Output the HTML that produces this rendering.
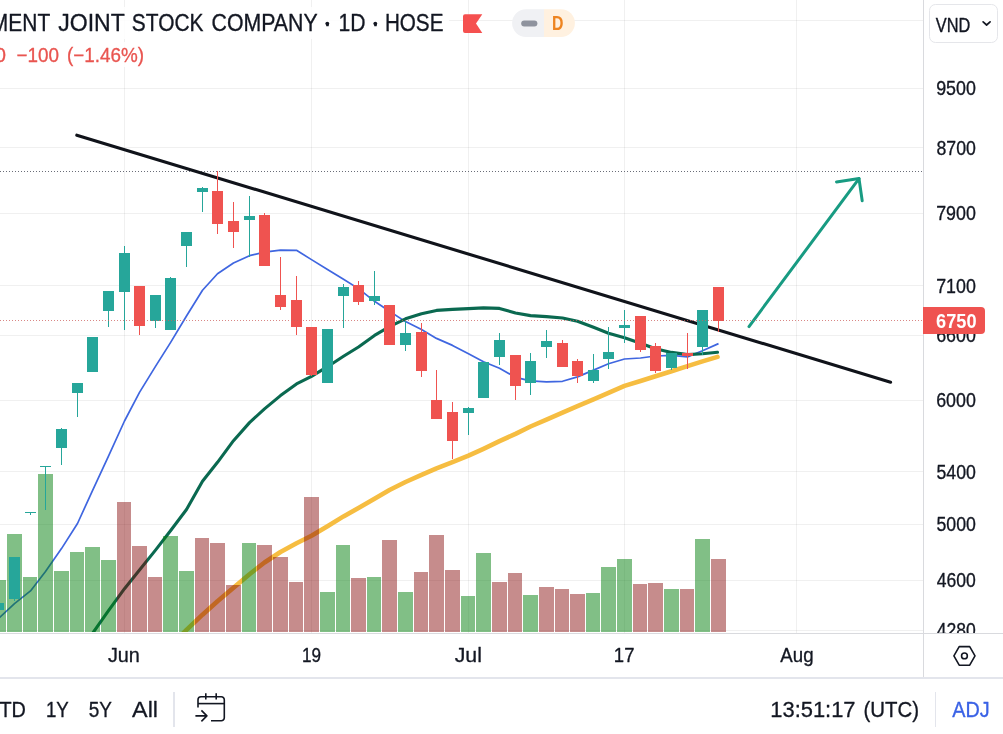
<!DOCTYPE html>
<html lang="en"><head><meta charset="utf-8"><title>Chart</title>
<style>
html,body{margin:0;padding:0;background:#fff;}
body{width:1003px;height:734px;overflow:hidden;position:relative;font-family:"Liberation Sans","DejaVu Sans",sans-serif;color:#131722;}
body>svg{position:absolute;left:0;top:0;display:block;}
svg text{font-family:"Liberation Sans","DejaVu Sans",sans-serif;}
</style></head><body>
<svg width="1003" height="734" viewBox="0 0 1003 734">
<rect x="0" y="0" width="1003" height="734" fill="#ffffff"/>
<g stroke="rgba(40,40,46,0.07)" stroke-width="1" shape-rendering="crispEdges">
<line x1="124.5" y1="0" x2="124.5" y2="633"/>
<line x1="311.5" y1="0" x2="311.5" y2="633"/>
<line x1="468.5" y1="0" x2="468.5" y2="633"/>
<line x1="624.5" y1="0" x2="624.5" y2="633"/>
<line x1="796.5" y1="0" x2="796.5" y2="633"/>
<line x1="0" y1="20.5" x2="923" y2="20.5"/>
<line x1="0" y1="88.5" x2="923" y2="88.5"/>
<line x1="0" y1="147.5" x2="923" y2="147.5"/>
<line x1="0" y1="213.5" x2="923" y2="213.5"/>
<line x1="0" y1="285.5" x2="923" y2="285.5"/>
<line x1="0" y1="335.5" x2="923" y2="335.5"/>
<line x1="0" y1="400.5" x2="923" y2="400.5"/>
<line x1="0" y1="471.5" x2="923" y2="471.5"/>
<line x1="0" y1="524.5" x2="923" y2="524.5"/>
<line x1="0" y1="580.5" x2="923" y2="580.5"/>
<line x1="0" y1="630.5" x2="923" y2="630.5"/>
</g>
<svg x="0" y="0" width="923" height="632" overflow="hidden"><g>
<line x1="0" y1="171.5" x2="923" y2="171.5" stroke="#6a6d78" stroke-width="1" stroke-dasharray="1 2" shape-rendering="crispEdges"/>
<line x1="76.8" y1="135.2" x2="890.6" y2="382.2" stroke="#10131a" stroke-width="3.1" stroke-linecap="round"/>
<g fill="none" stroke="#189b82" stroke-width="3.0" stroke-linecap="round" stroke-linejoin="round">
<line x1="749.0" y1="326.6" x2="859.0" y2="178.6"/>
<polyline points="836.5,181.9 859.0,178.6 862.2,200.8"/>
</g>
<polyline points="-16.5,629.9 -1.5,618.6 14.5,603.6 30.5,590.9 45.5,571.5 61.5,548.6 77.5,523.5 92.5,490.6 108.5,456.1 124.5,421.0 139.5,392.4 155.5,366.4 170.5,342.6 186.5,316.0 202.5,290.3 217.5,273.7 233.5,263.0 249.5,255.7 264.5,252.2 280.5,250.2 296.5,250.3 311.5,259.6 327.5,269.5 343.5,279.3 358.5,288.6 374.5,301.3 389.5,311.3 405.5,321.6 421.5,329.6 436.5,338.4 452.5,345.4 468.5,353.7 483.5,361.7 499.5,368.3 515.5,377.3 530.5,380.8 546.5,381.9 562.5,381.3 577.5,376.9 593.5,370.1 608.5,363.7 624.5,359.0 640.5,358.0 655.5,356.0 671.5,355.4 687.5,356.9 702.5,350.7 718.5,343.6" fill="none" stroke="#3f66e0" stroke-width="1.7" stroke-linejoin="round" stroke-linecap="butt"/>
<polyline points="77.5,654.8 92.5,633.4 108.5,610.6 124.5,588.7 139.5,570.0 155.5,550.1 170.5,530.8 186.5,509.5 202.5,481.3 217.5,462.3 233.5,440.7 249.5,422.6 264.5,408.9 280.5,395.6 296.5,383.9 311.5,376.4 327.5,366.7 343.5,356.3 358.5,347.0 374.5,335.4 389.5,326.6 405.5,318.8 421.5,313.8 436.5,310.4 452.5,309.4 468.5,308.6 483.5,307.9 499.5,308.4 515.5,313.0 530.5,315.6 546.5,316.6 562.5,318.0 577.5,321.3 593.5,327.3 608.5,333.2 624.5,337.7 640.5,343.3 655.5,348.8 671.5,352.4 687.5,354.6 702.5,353.8 717.5,352.3" fill="none" stroke="#0a6950" stroke-width="3.1" stroke-linejoin="round" stroke-linecap="round"/>
<polyline points="170.5,646.0 186.5,629.9 202.5,614.7 217.5,601.3 233.5,587.7 249.5,574.2 264.5,562.5 280.5,552.0 296.5,543.3 311.5,535.8 327.5,526.2 343.5,516.4 358.5,508.0 374.5,498.7 389.5,490.0 405.5,482.0 421.5,474.9 436.5,468.4 452.5,462.1 468.5,455.7 483.5,448.8 499.5,441.1 515.5,433.9 530.5,426.5 546.5,419.6 562.5,412.7 577.5,406.2 593.5,399.3 608.5,392.8 624.5,385.9 640.5,381.0 655.5,376.2 671.5,371.2 687.5,366.1 702.5,361.4 717.5,356.9" fill="none" stroke="#f6bd41" stroke-width="4.6" stroke-linejoin="round" stroke-linecap="round"/>
<g shape-rendering="crispEdges">
<rect x="-9" y="580" width="15" height="52" fill="rgba(4,128,14,0.5)"/>
<rect x="7" y="534" width="15" height="98" fill="rgba(4,128,14,0.5)"/>
<rect x="23" y="577" width="14" height="55" fill="rgba(4,128,14,0.5)"/>
<rect x="38" y="474" width="15" height="158" fill="rgba(4,128,14,0.5)"/>
<rect x="54" y="571" width="15" height="61" fill="rgba(4,128,14,0.5)"/>
<rect x="70" y="552" width="14" height="80" fill="rgba(4,128,14,0.5)"/>
<rect x="85" y="547" width="15" height="85" fill="rgba(4,128,14,0.5)"/>
<rect x="101" y="560" width="15" height="72" fill="rgba(4,128,14,0.5)"/>
<rect x="117" y="502" width="14" height="130" fill="rgba(128,0,0,0.45)"/>
<rect x="132" y="546" width="15" height="86" fill="rgba(128,0,0,0.45)"/>
<rect x="148" y="577" width="14" height="55" fill="rgba(128,0,0,0.45)"/>
<rect x="163" y="536" width="15" height="96" fill="rgba(4,128,14,0.5)"/>
<rect x="179" y="571" width="15" height="61" fill="rgba(4,128,14,0.5)"/>
<rect x="195" y="538" width="14" height="94" fill="rgba(128,0,0,0.45)"/>
<rect x="210" y="543" width="15" height="89" fill="rgba(128,0,0,0.45)"/>
<rect x="226" y="585" width="15" height="47" fill="rgba(128,0,0,0.45)"/>
<rect x="242" y="543" width="14" height="89" fill="rgba(4,128,14,0.5)"/>
<rect x="257" y="545" width="15" height="87" fill="rgba(128,0,0,0.45)"/>
<rect x="273" y="557" width="15" height="75" fill="rgba(128,0,0,0.45)"/>
<rect x="289" y="582" width="14" height="50" fill="rgba(128,0,0,0.45)"/>
<rect x="304" y="497" width="15" height="135" fill="rgba(128,0,0,0.45)"/>
<rect x="320" y="592" width="15" height="40" fill="rgba(4,128,14,0.5)"/>
<rect x="336" y="545" width="14" height="87" fill="rgba(4,128,14,0.5)"/>
<rect x="351" y="578" width="15" height="54" fill="rgba(128,0,0,0.45)"/>
<rect x="367" y="577" width="14" height="55" fill="rgba(4,128,14,0.5)"/>
<rect x="382" y="540" width="15" height="92" fill="rgba(128,0,0,0.45)"/>
<rect x="398" y="592" width="15" height="40" fill="rgba(4,128,14,0.5)"/>
<rect x="414" y="572" width="14" height="60" fill="rgba(128,0,0,0.45)"/>
<rect x="429" y="535" width="15" height="97" fill="rgba(128,0,0,0.45)"/>
<rect x="445" y="570" width="15" height="62" fill="rgba(128,0,0,0.45)"/>
<rect x="461" y="596" width="14" height="36" fill="rgba(4,128,14,0.5)"/>
<rect x="476" y="553" width="15" height="79" fill="rgba(4,128,14,0.5)"/>
<rect x="492" y="582" width="15" height="50" fill="rgba(128,0,0,0.45)"/>
<rect x="508" y="573" width="14" height="59" fill="rgba(128,0,0,0.45)"/>
<rect x="523" y="595" width="15" height="37" fill="rgba(4,128,14,0.5)"/>
<rect x="539" y="587" width="15" height="45" fill="rgba(128,0,0,0.45)"/>
<rect x="555" y="589" width="14" height="43" fill="rgba(128,0,0,0.45)"/>
<rect x="570" y="594" width="15" height="38" fill="rgba(128,0,0,0.45)"/>
<rect x="586" y="593" width="14" height="39" fill="rgba(4,128,14,0.5)"/>
<rect x="601" y="567" width="15" height="65" fill="rgba(4,128,14,0.5)"/>
<rect x="617" y="559" width="15" height="73" fill="rgba(4,128,14,0.5)"/>
<rect x="633" y="584" width="14" height="48" fill="rgba(128,0,0,0.45)"/>
<rect x="648" y="583" width="15" height="49" fill="rgba(128,0,0,0.45)"/>
<rect x="664" y="589" width="15" height="43" fill="rgba(4,128,14,0.5)"/>
<rect x="680" y="589" width="14" height="43" fill="rgba(128,0,0,0.45)"/>
<rect x="695" y="539" width="15" height="93" fill="rgba(4,128,14,0.5)"/>
<rect x="711" y="559" width="15" height="73" fill="rgba(128,0,0,0.45)"/>
</g>
<g shape-rendering="crispEdges">
<rect x="-2" y="603" width="1" height="8" fill="#26a69a"/>
<rect x="-7" y="603" width="11" height="7" fill="#26a69a"/>
<rect x="14" y="557" width="1" height="44" fill="#26a69a"/>
<rect x="9" y="557" width="11" height="42" fill="#26a69a"/>
<rect x="30" y="512" width="1" height="3" fill="#26a69a"/>
<rect x="25" y="512" width="11" height="1" fill="#26a69a"/>
<rect x="45" y="466" width="1" height="44" fill="#26a69a"/>
<rect x="40" y="466" width="11" height="1" fill="#26a69a"/>
<rect x="61" y="428" width="1" height="37" fill="#26a69a"/>
<rect x="56" y="429" width="11" height="19" fill="#26a69a"/>
<rect x="77" y="383" width="1" height="34" fill="#26a69a"/>
<rect x="72" y="383" width="11" height="10" fill="#26a69a"/>
<rect x="92" y="337" width="1" height="35" fill="#26a69a"/>
<rect x="87" y="337" width="11" height="35" fill="#26a69a"/>
<rect x="108" y="291" width="1" height="36" fill="#26a69a"/>
<rect x="103" y="291" width="11" height="20" fill="#26a69a"/>
<rect x="124" y="246" width="1" height="84" fill="#26a69a"/>
<rect x="119" y="253" width="11" height="39" fill="#26a69a"/>
<rect x="139" y="286" width="1" height="49" fill="#ef5350"/>
<rect x="134" y="286" width="11" height="40" fill="#ef5350"/>
<rect x="155" y="295" width="1" height="33" fill="#26a69a"/>
<rect x="150" y="295" width="11" height="26" fill="#26a69a"/>
<rect x="170" y="277" width="1" height="53" fill="#26a69a"/>
<rect x="165" y="278" width="11" height="52" fill="#26a69a"/>
<rect x="186" y="232" width="1" height="35" fill="#26a69a"/>
<rect x="181" y="232" width="11" height="14" fill="#26a69a"/>
<rect x="202" y="187" width="1" height="25" fill="#26a69a"/>
<rect x="197" y="188" width="11" height="4" fill="#26a69a"/>
<rect x="217" y="171" width="1" height="63" fill="#ef5350"/>
<rect x="212" y="191" width="11" height="33" fill="#ef5350"/>
<rect x="233" y="202" width="1" height="46" fill="#ef5350"/>
<rect x="228" y="221" width="11" height="11" fill="#ef5350"/>
<rect x="249" y="196" width="1" height="61" fill="#26a69a"/>
<rect x="244" y="216" width="11" height="4" fill="#26a69a"/>
<rect x="264" y="213" width="1" height="53" fill="#ef5350"/>
<rect x="259" y="215" width="11" height="51" fill="#ef5350"/>
<rect x="280" y="257" width="1" height="53" fill="#ef5350"/>
<rect x="275" y="295" width="11" height="12" fill="#ef5350"/>
<rect x="296" y="276" width="1" height="59" fill="#ef5350"/>
<rect x="291" y="300" width="11" height="27" fill="#ef5350"/>
<rect x="311" y="327" width="1" height="49" fill="#ef5350"/>
<rect x="306" y="327" width="11" height="48" fill="#ef5350"/>
<rect x="327" y="329" width="1" height="54" fill="#26a69a"/>
<rect x="322" y="329" width="11" height="54" fill="#26a69a"/>
<rect x="343" y="284" width="1" height="44" fill="#26a69a"/>
<rect x="338" y="287" width="11" height="9" fill="#26a69a"/>
<rect x="358" y="281" width="1" height="24" fill="#ef5350"/>
<rect x="353" y="285" width="11" height="17" fill="#ef5350"/>
<rect x="374" y="271" width="1" height="34" fill="#26a69a"/>
<rect x="369" y="296" width="11" height="5" fill="#26a69a"/>
<rect x="389" y="305" width="1" height="40" fill="#ef5350"/>
<rect x="384" y="305" width="11" height="40" fill="#ef5350"/>
<rect x="405" y="321" width="1" height="30" fill="#26a69a"/>
<rect x="400" y="333" width="11" height="12" fill="#26a69a"/>
<rect x="421" y="323" width="1" height="54" fill="#ef5350"/>
<rect x="416" y="332" width="11" height="39" fill="#ef5350"/>
<rect x="436" y="370" width="1" height="49" fill="#ef5350"/>
<rect x="431" y="400" width="11" height="19" fill="#ef5350"/>
<rect x="452" y="402" width="1" height="57" fill="#ef5350"/>
<rect x="447" y="412" width="11" height="29" fill="#ef5350"/>
<rect x="468" y="407" width="1" height="28" fill="#26a69a"/>
<rect x="463" y="408" width="11" height="5" fill="#26a69a"/>
<rect x="483" y="362" width="1" height="36" fill="#26a69a"/>
<rect x="478" y="362" width="11" height="36" fill="#26a69a"/>
<rect x="499" y="333" width="1" height="32" fill="#26a69a"/>
<rect x="494" y="340" width="11" height="17" fill="#26a69a"/>
<rect x="515" y="355" width="1" height="45" fill="#ef5350"/>
<rect x="510" y="355" width="11" height="31" fill="#ef5350"/>
<rect x="530" y="353" width="1" height="42" fill="#26a69a"/>
<rect x="525" y="361" width="11" height="22" fill="#26a69a"/>
<rect x="546" y="330" width="1" height="28" fill="#26a69a"/>
<rect x="541" y="341" width="11" height="6" fill="#26a69a"/>
<rect x="562" y="340" width="1" height="27" fill="#ef5350"/>
<rect x="557" y="343" width="11" height="24" fill="#ef5350"/>
<rect x="577" y="359" width="1" height="24" fill="#ef5350"/>
<rect x="572" y="361" width="11" height="15" fill="#ef5350"/>
<rect x="593" y="354" width="1" height="29" fill="#26a69a"/>
<rect x="588" y="370" width="11" height="11" fill="#26a69a"/>
<rect x="608" y="327" width="1" height="42" fill="#26a69a"/>
<rect x="603" y="352" width="11" height="7" fill="#26a69a"/>
<rect x="624" y="310" width="1" height="33" fill="#26a69a"/>
<rect x="619" y="325" width="11" height="3" fill="#26a69a"/>
<rect x="640" y="316" width="1" height="36" fill="#ef5350"/>
<rect x="635" y="316" width="11" height="34" fill="#ef5350"/>
<rect x="655" y="343" width="1" height="30" fill="#ef5350"/>
<rect x="650" y="346" width="11" height="25" fill="#ef5350"/>
<rect x="671" y="353" width="1" height="17" fill="#26a69a"/>
<rect x="666" y="353" width="11" height="15" fill="#26a69a"/>
<rect x="687" y="333" width="1" height="36" fill="#ef5350"/>
<rect x="682" y="353" width="11" height="3" fill="#ef5350"/>
<rect x="702" y="310" width="1" height="45" fill="#26a69a"/>
<rect x="697" y="310" width="11" height="37" fill="#26a69a"/>
<rect x="718" y="287" width="1" height="45" fill="#ef5350"/>
<rect x="713" y="287" width="11" height="34" fill="#ef5350"/>
</g>
<line x1="0" y1="320.5" x2="923" y2="320.5" stroke="#cc5f5c" stroke-opacity="0.75" stroke-width="1" stroke-dasharray="1 2" shape-rendering="crispEdges"/>
</g></svg>
<g stroke="#d9dade" shape-rendering="crispEdges">
<line x1="923.5" y1="0" x2="923.5" y2="678" stroke-width="1"/>
<line x1="0" y1="633.5" x2="1003" y2="633.5" stroke-width="1"/>
</g>
<rect x="0" y="677" width="1003" height="2" fill="#e3e5ec"/>
<text transform="translate(936.16 95.00) scale(0.9222 1)" font-size="19.34" fill="#131722" stroke="#131722" stroke-width="0.325" stroke-linejoin="round">9500</text>
<text transform="translate(936.45 154.70) scale(0.9155 1)" font-size="19.34" fill="#131722" stroke="#131722" stroke-width="0.328" stroke-linejoin="round">8700</text>
<text transform="translate(936.16 219.80) scale(0.9222 1)" font-size="19.34" fill="#131722" stroke="#131722" stroke-width="0.325" stroke-linejoin="round">7900</text>
<text transform="translate(936.16 293.00) scale(0.9222 1)" font-size="19.34" fill="#131722" stroke="#131722" stroke-width="0.325" stroke-linejoin="round">7100</text>
<text transform="translate(936.16 342.30) scale(0.9222 1)" font-size="19.34" fill="#131722" stroke="#131722" stroke-width="0.325" stroke-linejoin="round">6600</text>
<text transform="translate(936.16 407.10) scale(0.9222 1)" font-size="19.34" fill="#131722" stroke="#131722" stroke-width="0.325" stroke-linejoin="round">6000</text>
<text transform="translate(936.45 479.30) scale(0.9155 1)" font-size="19.34" fill="#131722" stroke="#131722" stroke-width="0.328" stroke-linejoin="round">5400</text>
<text transform="translate(936.45 531.30) scale(0.9155 1)" font-size="19.34" fill="#131722" stroke="#131722" stroke-width="0.328" stroke-linejoin="round">5000</text>
<text transform="translate(936.73 587.30) scale(0.9090 1)" font-size="19.34" fill="#131722" stroke="#131722" stroke-width="0.330" stroke-linejoin="round">4600</text>
<svg x="924" y="0" width="79" height="633" overflow="hidden"><g transform="translate(-924 0)"><text transform="translate(936.73 637.30) scale(0.9090 1)" font-size="19.34" fill="#131722" stroke="#131722" stroke-width="0.330" stroke-linejoin="round">4280</text></g></svg>
<path d="M923 307 H981 a4 4 0 0 1 4 4 V330 a4 4 0 0 1 -4 4 H923 Z" fill="#ef5350"/>
<text transform="translate(936.03 327.60) scale(0.9414 1)" font-size="19.34" font-weight="bold" fill="#ffffff">6750</text>
<rect x="929.5" y="4.5" width="68" height="38" rx="6" ry="6" fill="#ffffff" stroke="#e5e6ea" stroke-width="1"/>
<text transform="translate(935.80 31.60) scale(0.8403 1)" font-size="19.48" fill="#131722" stroke="#131722" stroke-width="0.357" stroke-linejoin="round">VND</text>
<polyline points="983.1,21.9 986.6,25.0 990.1,21.9" fill="none" stroke="#131722" stroke-width="1.7" stroke-linecap="round" stroke-linejoin="round"/>
<rect x="0" y="7" width="449" height="32" fill="#ffffff" fill-opacity="0.85"/>
<rect x="0" y="42" width="149" height="25" fill="#ffffff" fill-opacity="0.85"/>
<g>
<text transform="translate(-9.14 31.00) scale(0.8521 1)" font-size="24.60" fill="#131722" stroke="#131722" stroke-width="0.352" stroke-linejoin="round">MENT</text>
<text transform="translate(58.24 31.00) scale(0.9378 1)" font-size="24.60" fill="#131722" stroke="#131722" stroke-width="0.320" stroke-linejoin="round">JOINT</text>
<text transform="translate(131.85 31.00) scale(0.8501 1)" font-size="24.60" fill="#131722" stroke="#131722" stroke-width="0.353" stroke-linejoin="round">STOCK</text>
<text transform="translate(211.50 31.00) scale(0.8666 1)" font-size="24.60" fill="#131722" stroke="#131722" stroke-width="0.346" stroke-linejoin="round">COMPANY</text>
<text transform="translate(323.40 31.00) scale(0.9661 1)" font-size="24.60" fill="#131722" stroke="#131722" stroke-width="0.311" stroke-linejoin="round">·</text>
<circle cx="327.3" cy="23.6" r="1.9" fill="#131722"/>
<text transform="translate(338.38 31.00) scale(0.8602 1)" font-size="24.60" fill="#131722" stroke="#131722" stroke-width="0.349" stroke-linejoin="round">1D</text>
<text transform="translate(371.40 31.00) scale(0.9661 1)" font-size="24.60" fill="#131722" stroke="#131722" stroke-width="0.311" stroke-linejoin="round">·</text>
<circle cx="375.3" cy="23.6" r="1.9" fill="#131722"/>
<text transform="translate(384.89 31.00) scale(0.8402 1)" font-size="24.60" fill="#131722" stroke="#131722" stroke-width="0.357" stroke-linejoin="round">HOSE</text>
</g>
<path d="M465 14.2 H482.3 L476 23.6 L482.3 33 H465 a2 2 0 0 1 -2 -2 V16.2 a2 2 0 0 1 2 -2 Z" fill="#f5504f"/>
<path d="M526 9.2 H544 V37 H526 a13.9 13.9 0 0 1 0 -27.8 Z" fill="#f0f1f4"/>
<path d="M544 9.2 H561 a13.9 13.9 0 0 1 0 27.8 H544 Z" fill="#fff1e0"/>
<rect x="521.2" y="20.4" width="16.2" height="6" rx="3" ry="3" fill="#8f939e"/>
<text transform="translate(552.11 30.00) scale(0.8013 1)" font-size="19.77" font-weight="bold" fill="#ee8420">D</text>
<text transform="translate(-5.13 61.50) scale(1.0073 1)" font-size="20.05" fill="#e95550" stroke="#e95550" stroke-width="0.298" stroke-linejoin="round">0</text>
<text transform="translate(16.51 61.50) scale(0.9422 1)" font-size="20.05" fill="#e95550" stroke="#e95550" stroke-width="0.318" stroke-linejoin="round">−100</text>
<text transform="translate(67.02 61.50) scale(0.9406 1)" font-size="20.05" fill="#e95550" stroke="#e95550" stroke-width="0.319" stroke-linejoin="round">(−1.46%)</text>
<text transform="translate(107.89 662.00) scale(1.0269 1)" font-size="19.34" fill="#131722" stroke="#131722" stroke-width="0.292" stroke-linejoin="round">Jun</text>
<text transform="translate(301.93 662.00) scale(0.8862 1)" font-size="19.34" fill="#131722" stroke="#131722" stroke-width="0.339" stroke-linejoin="round">19</text>
<text transform="translate(454.67 662.00) scale(1.1016 1)" font-size="19.34" fill="#131722" stroke="#131722" stroke-width="0.272" stroke-linejoin="round">Jul</text>
<text transform="translate(613.84 662.00) scale(0.9579 1)" font-size="19.34" fill="#131722" stroke="#131722" stroke-width="0.313" stroke-linejoin="round">17</text>
<text transform="translate(780.30 662.00) scale(0.9661 1)" font-size="19.34" fill="#131722" stroke="#131722" stroke-width="0.311" stroke-linejoin="round">Aug</text>
<g fill="none" stroke="#131722" stroke-width="1.6" stroke-linejoin="round">
<polygon points="953.9,655.9 959.2,646.6 969.7,646.6 975.0,655.9 969.7,665.2 959.2,665.2"/>
<circle cx="964.45" cy="655.9" r="2.9"/>
</g>
<text transform="translate(-0.61 716.70) scale(0.9196 1)" font-size="21.62" fill="#131722" stroke="#131722" stroke-width="0.326" stroke-linejoin="round">TD</text>
<text transform="translate(45.93 716.70) scale(0.8649 1)" font-size="21.62" fill="#131722" stroke="#131722" stroke-width="0.347" stroke-linejoin="round">1Y</text>
<text transform="translate(88.71 716.70) scale(0.8773 1)" font-size="21.62" fill="#131722" stroke="#131722" stroke-width="0.342" stroke-linejoin="round">5Y</text>
<text transform="translate(132.10 716.70) scale(1.0797 1)" font-size="21.62" fill="#131722" stroke="#131722" stroke-width="0.278" stroke-linejoin="round">All</text>
<text transform="translate(770.33 716.70) scale(1.0132 1)" font-size="21.62" fill="#131722" stroke="#131722" stroke-width="0.296" stroke-linejoin="round">13:51:17</text>
<text transform="translate(863.44 716.70) scale(0.9454 1)" font-size="21.62" fill="#131722" stroke="#131722" stroke-width="0.317" stroke-linejoin="round">(UTC)</text>
<text transform="translate(952.30 716.70) scale(0.9167 1)" font-size="21.62" fill="#3a62e6" stroke="#3a62e6" stroke-width="0.327" stroke-linejoin="round">ADJ</text>
<rect x="173" y="692" width="2" height="35" fill="#e3e5ec"/>
<rect x="935" y="692" width="1" height="35" fill="#e3e5ec"/>
<g fill="none" stroke="#131722" stroke-width="1.6" stroke-linecap="butt" stroke-linejoin="round">
<path d="M198 707.5 V699.8 a3 3 0 0 1 3 -3 H221.3 a3 3 0 0 1 3 3 V717.7 a3 3 0 0 1 -3 3 H211"/>
<path d="M198 703.6 H224.3"/>
<path d="M205.8 693.2 V699.5 M216.2 693.2 V699.5"/>
<path d="M195.4 715.9 H207 M201.4 710.4 L206.9 715.9 L201.4 721.4"/>
</g>
</svg>
</body></html>
